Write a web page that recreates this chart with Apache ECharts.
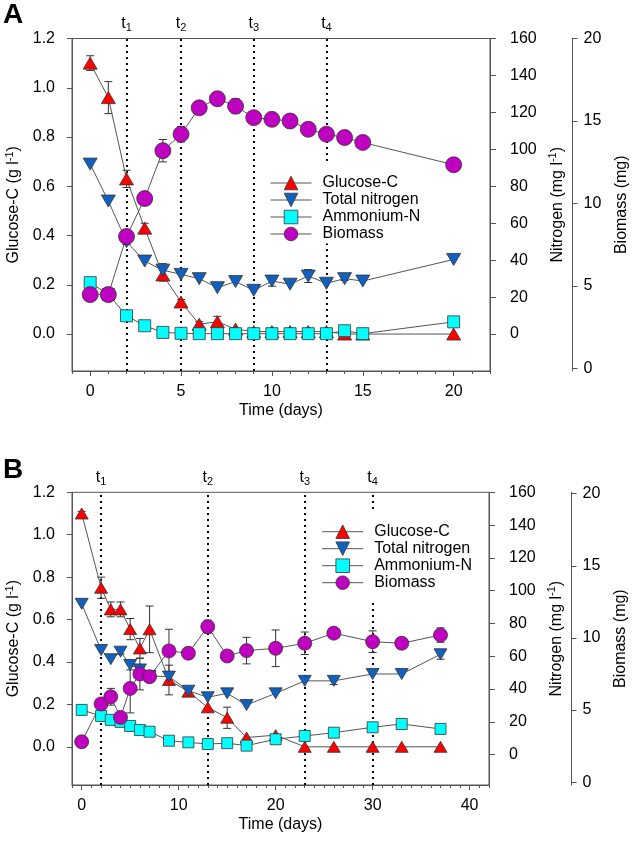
<!DOCTYPE html>
<html><head><meta charset="utf-8">
<script src="https://cdn.jsdelivr.net/npm/echarts@6/dist/echarts.min.js"></script>
<style>html,body{margin:0;padding:0;background:#fff}#c{width:633px;height:841px}</style>
</head><body><div id="c"></div>
<script>
// ---------- Panel A data ----------
const daysA = [0,1,2,3,4,5,6,7,8,9,10,11,12,13,14,15,20];
const glucoseA = [1.10,0.96,0.63,0.43,0.24,0.13,0.04,0.05,0.02,0.01,0.01,0.01,0.01,0.01,0.0,0.0,0.0];
const glucoseErrA = [0.03,0.065,0.035,0.02,0.025,0.01,0.01,0.022,0,0,0,0,0,0,0,0,0];
const totalNA = [92,72,50,39.5,34.6,32.3,30,25.1,28.4,23.7,28.7,27,31.4,27.5,30,28.7,40.4];
const totalNErrA = [0,0,1.5,0,3.5,0,0,0,0,0,2.8,0,3.5,0,1,0,0];
const ammoniumA = [27.8,21.5,9.9,4.5,0.9,0.4,0.2,0.2,0.2,0.2,0.2,0.2,0.2,0.2,1.8,0.2,6.6];
const ammoniumErrA = [0,0,1,0,0,0,0,0,0,0,0,0,0,0,0,0,0];
const biomassA = [4.48,4.48,8.0,10.3,13.2,14.2,15.8,16.35,15.9,15.2,15.1,15.0,14.5,14.2,14.0,13.7,12.35];
const biomassErrA = [0,0,0,0,0.68,0.47,0,0,0.45,0,0,0,0,0,0.35,0,0];
const tA = [2,5,9,13];

// ---------- Panel B data ----------
const daysB = [0,2,3,4,5,6,7,9,11,13,15,17,20,23,26,30,33,37];
const glucoseB = [1.10,0.75,0.648,0.648,0.555,0.464,0.554,0.315,0.26,0.186,0.137,0.044,0.055,0,0,0,0,0];
const glucoseErrB = [0.01,0.05,0.035,0.035,0.05,0.047,0.11,0.07,0,0,0.05,0,0,0,0,0,0,0];
const totalNB = [92,63.8,58.2,62.8,54.7,52,48,47.6,39,35,37.4,30.3,37.4,45,45,49.2,49.2,61.2];
const totalNErrB = [0,0,0,1.5,3,0,0,0,0,0,0,0,0,0,2.2,0,0,3];
const ammoniumB = [27.3,23.6,21.2,20,17.5,15,14,8.5,7.5,6.5,7,5.5,9.4,11.4,13.4,16.7,18.7,15.7];
const ammoniumErrB = [0,0,0,0,0,0,0,0,0,0,0,0,0,0,0,0,0,0];
const biomassB = [2.8,5.42,5.92,4.49,6.5,7.5,7.31,9.1,8.94,10.78,8.75,9.12,9.28,9.63,10.33,9.74,9.63,10.2];
const biomassErrB = [0,0,0.58,0,1.7,1.1,0,1.5,0,0.45,0,0.92,1.27,0.78,0,0.75,0,0.5];
const tB = [2,13,23,30];

// ---------- tick labels ----------
const xTicksA = [0,5,10,15,20];
const xTicksB = [0,10,20,30,40];
const glucoseTicks = [0,0.2,0.4,0.6,0.8,1.0,1.2];
const nitrogenTicks = [0,20,40,60,80,100,120,140,160];
const biomassTicks = [0,5,10,15,20];
const names = ['Glucose-C','Total nitrogen','Ammonium-N','Biomass'];

const FONT = 'Liberation Sans, Arial, Helvetica, sans-serif';
const AX = '#555';
const colors = ['#FF0000','#1060C0','#00FFFF','#C000C0'];
const DOWN = 'path://M0,0L10,0L5,8.7Z';

const txt = {fontFamily: FONT, fontSize: 16, color: '#000'};
const supRich = {sup: {fontFamily: FONT, fontSize: 11, color: '#000', padding: [0,0,8,0]}};

function xMain(grid, min, max, ticks) {
  return {
    gridIndex: grid, type: 'value', min: min, max: max, position: 'bottom',
    axisLine: {show: true, onZero: false, lineStyle: {color: AX, width: 1}},
    axisTick: {show: true, customValues: ticks, length: 5, lineStyle: {color: AX}},
    axisLabel: Object.assign({customValues: ticks, margin: 13}, txt),
    splitLine: {show: false},
    name: 'Time (days)', nameLocation: 'middle', nameGap: 32, nameTextStyle: txt
  };
}
function xMinor(grid, min, max) {
  return {
    gridIndex: grid, type: 'value', min: min, max: max, interval: 1, position: 'bottom',
    axisLine: {show: false, onZero: false}, axisTick: {show: true, length: 3, lineStyle: {color: AX}},
    axisLabel: {show: false}, splitLine: {show: false}
  };
}
function yAxes(grid, gMin, nMin, bMin, bMax) {
  return [
    {gridIndex: grid, type: 'value', position: 'left', min: gMin, max: 1.2,
     axisLine: {show: true, onZero: false, lineStyle: {color: AX}},
     axisTick: {show: true, customValues: glucoseTicks, length: 5, lineStyle: {color: AX}},
     axisLabel: Object.assign({customValues: glucoseTicks, margin: 17, formatter: v => v.toFixed(1)}, txt),
     splitLine: {show: false},
     name: 'Glucose-C (g l{sup|-1})', nameLocation: 'middle', nameRotate: 90, nameGap: 49,
     nameTextStyle: Object.assign({rich: supRich}, txt)},
    {gridIndex: grid, type: 'value', position: 'right', min: nMin, max: 160,
     axisLine: {show: true, onZero: false, lineStyle: {color: AX}},
     axisTick: {show: true, customValues: nitrogenTicks, length: 6, lineStyle: {color: AX}},
     axisLabel: Object.assign({customValues: nitrogenTicks, margin: 20}, txt),
     splitLine: {show: false},
     name: 'Nitrogen (mg l{sup|-1})', nameLocation: 'middle', nameRotate: 90, nameGap: 47,
     nameTextStyle: Object.assign({rich: supRich}, txt)},
    {gridIndex: grid, type: 'value', position: 'right', offset: 82.5, min: bMin, max: bMax,
     axisLine: {show: true, onZero: false, lineStyle: {color: AX}},
     axisTick: {show: true, customValues: biomassTicks, length: 5, lineStyle: {color: AX}},
     axisLabel: Object.assign({customValues: biomassTicks, margin: 11}, txt),
     splitLine: {show: false},
     name: 'Biomass (mg)', nameLocation: 'middle', nameRotate: 90, nameGap: 41,
     nameTextStyle: txt}
  ];
}

function errSeries(days, vals, errs, xi, yi) {
  const data = [];
  days.forEach((d, i) => { if (errs[i] > 0) data.push([d, vals[i], errs[i]]); });
  return {
    type: 'custom', xAxisIndex: xi, yAxisIndex: yi, z: 1, silent: true, data: data,
    encode: {x: 0, y: 1},
    renderItem: function (params, api) {
      const x = api.value(0), y = api.value(1), e = api.value(2);
      const a = api.coord([x, y + e]), b = api.coord([x, y - e]);
      const hw = 4, st = {stroke: '#333', lineWidth: 1};
      return {type: 'group', children: [
        {type: 'line', shape: {x1: a[0], y1: a[1], x2: b[0], y2: b[1]}, style: st},
        {type: 'line', shape: {x1: a[0]-hw, y1: a[1], x2: a[0]+hw, y2: a[1]}, style: st},
        {type: 'line', shape: {x1: b[0]-hw, y1: b[1], x2: b[0]+hw, y2: b[1]}, style: st}
      ]};
    }
  };
}
function lineSeries(name, days, vals, xi, yi, symbol, size, color) {
  return {
    name: name, type: 'line', xAxisIndex: xi, yAxisIndex: yi, z: 2,
    data: days.map((d, i) => [d, vals[i]]),
    symbol: symbol, symbolSize: size, showSymbol: true,
    itemStyle: {color: color, borderColor: '#333', borderWidth: 0.8},
    lineStyle: {color: '#555', width: 1},
    emphasis: {disabled: true}
  };
}
function tLineSeries(ts, xi, yi) {
  return {
    type: 'line', xAxisIndex: xi, yAxisIndex: yi, z: 0, data: [], silent: true,
    markLine: {
      z: 0, silent: true, symbol: ['none','none'], animation: false,
      lineStyle: {color: '#000', type: [2,4], width: 2},
      label: {show: true, position: 'end', distance: 5,
        formatter: p => 't{sub|' + p.name + '}',
        fontFamily: FONT, fontSize: 16, color: '#000',
        rich: {sub: {fontFamily: FONT, fontSize: 11, color: '#000', padding: [9,0,0,0]}}},
      emphasis: {disabled: true},
      data: ts.map((d, i) => ({xAxis: d, name: String(i + 1)}))
    }
  };
}

function panel(xi, y0, days, g, ge, tn, tne, am, ame, bm, bme, ts, sz) {
  return [
    tLineSeries(ts, xi, y0),
    errSeries(days, g, ge, xi, y0),
    errSeries(days, tn, tne, xi, y0 + 1),
    errSeries(days, am, ame, xi, y0 + 1),
    errSeries(days, bm, bme, xi, y0 + 2),
    lineSeries(names[0], days, g, xi, y0, 'triangle', sz.tri, colors[0]),
    lineSeries(names[1], days, tn, xi, y0 + 1, DOWN, sz.tri, colors[1]),
    lineSeries(names[2], days, am, xi, y0 + 1, 'rect', sz.sq, colors[2]),
    lineSeries(names[3], days, bm, xi, y0 + 2, 'circle', sz.ci, colors[3])
  ];
}

const legendBase = {
  data: names, orient: 'vertical', itemWidth: 41, itemHeight: 17, itemGap: 0,
  backgroundColor: '#fff', selectedMode: false,
  lineStyle: {color: '#555', width: 1},
  itemStyle: {borderColor: '#333', borderWidth: 0.8},
  textStyle: {fontFamily: FONT, fontSize: 16, color: '#000', lineHeight: 17, padding: [0,0,0,6]}
};

const chart = echarts.init(document.getElementById('c'), null, {renderer: 'canvas'});
chart.setOption({
  animation: false,
  backgroundColor: '#fff',
  title: [
    {text: 'A', left: 3, top: 1, padding: 0, textStyle: {fontFamily: FONT, fontSize: 28, fontWeight: 'bold', color: '#000'}},
    {text: 'B', left: 3, top: 456, padding: 0, textStyle: {fontFamily: FONT, fontSize: 28, fontWeight: 'bold', color: '#000'}}
  ],
  grid: [
    {left: 72, top: 38.5, width: 418, height: 332.5, show: true, borderColor: AX, borderWidth: 1,
     backgroundColor: 'transparent', containLabel: false, outerBoundsMode: 'none'},
    {left: 72, top: 492.3, width: 417, height: 292.7, show: true, borderColor: AX, borderWidth: 1,
     backgroundColor: 'transparent', containLabel: false, outerBoundsMode: 'none'}
  ],
  legend: [
    Object.assign({left: 268, top: 164.5, padding: [10,4,1,2]}, legendBase),
    Object.assign({left: 319.7, top: 512.2, padding: [11,4,8,2]}, legendBase)
  ],
  xAxis: [
    xMain(0, -1, 22, xTicksA), xMinor(0, -1, 22),
    xMain(1, -1, 42, xTicksB), xMinor(1, -1, 42)
  ],
  yAxis: yAxes(0, -0.15, -20, -0.15, 20).concat(yAxes(1, -0.18, -18.5, -0.2, 20.1)),
  series: panel(0, 0, daysA, glucoseA, glucoseErrA, totalNA, totalNErrA, ammoniumA, ammoniumErrA, biomassA, biomassErrA, tA, {tri: [14,12], sq: 12, ci: 16})
    .concat(panel(2, 3, daysB, glucoseB, glucoseErrB, totalNB, totalNErrB, ammoniumB, ammoniumErrB, biomassB, biomassErrB, tB, {tri: [13,11], sq: 11, ci: 14}))
});
</script></body></html>
